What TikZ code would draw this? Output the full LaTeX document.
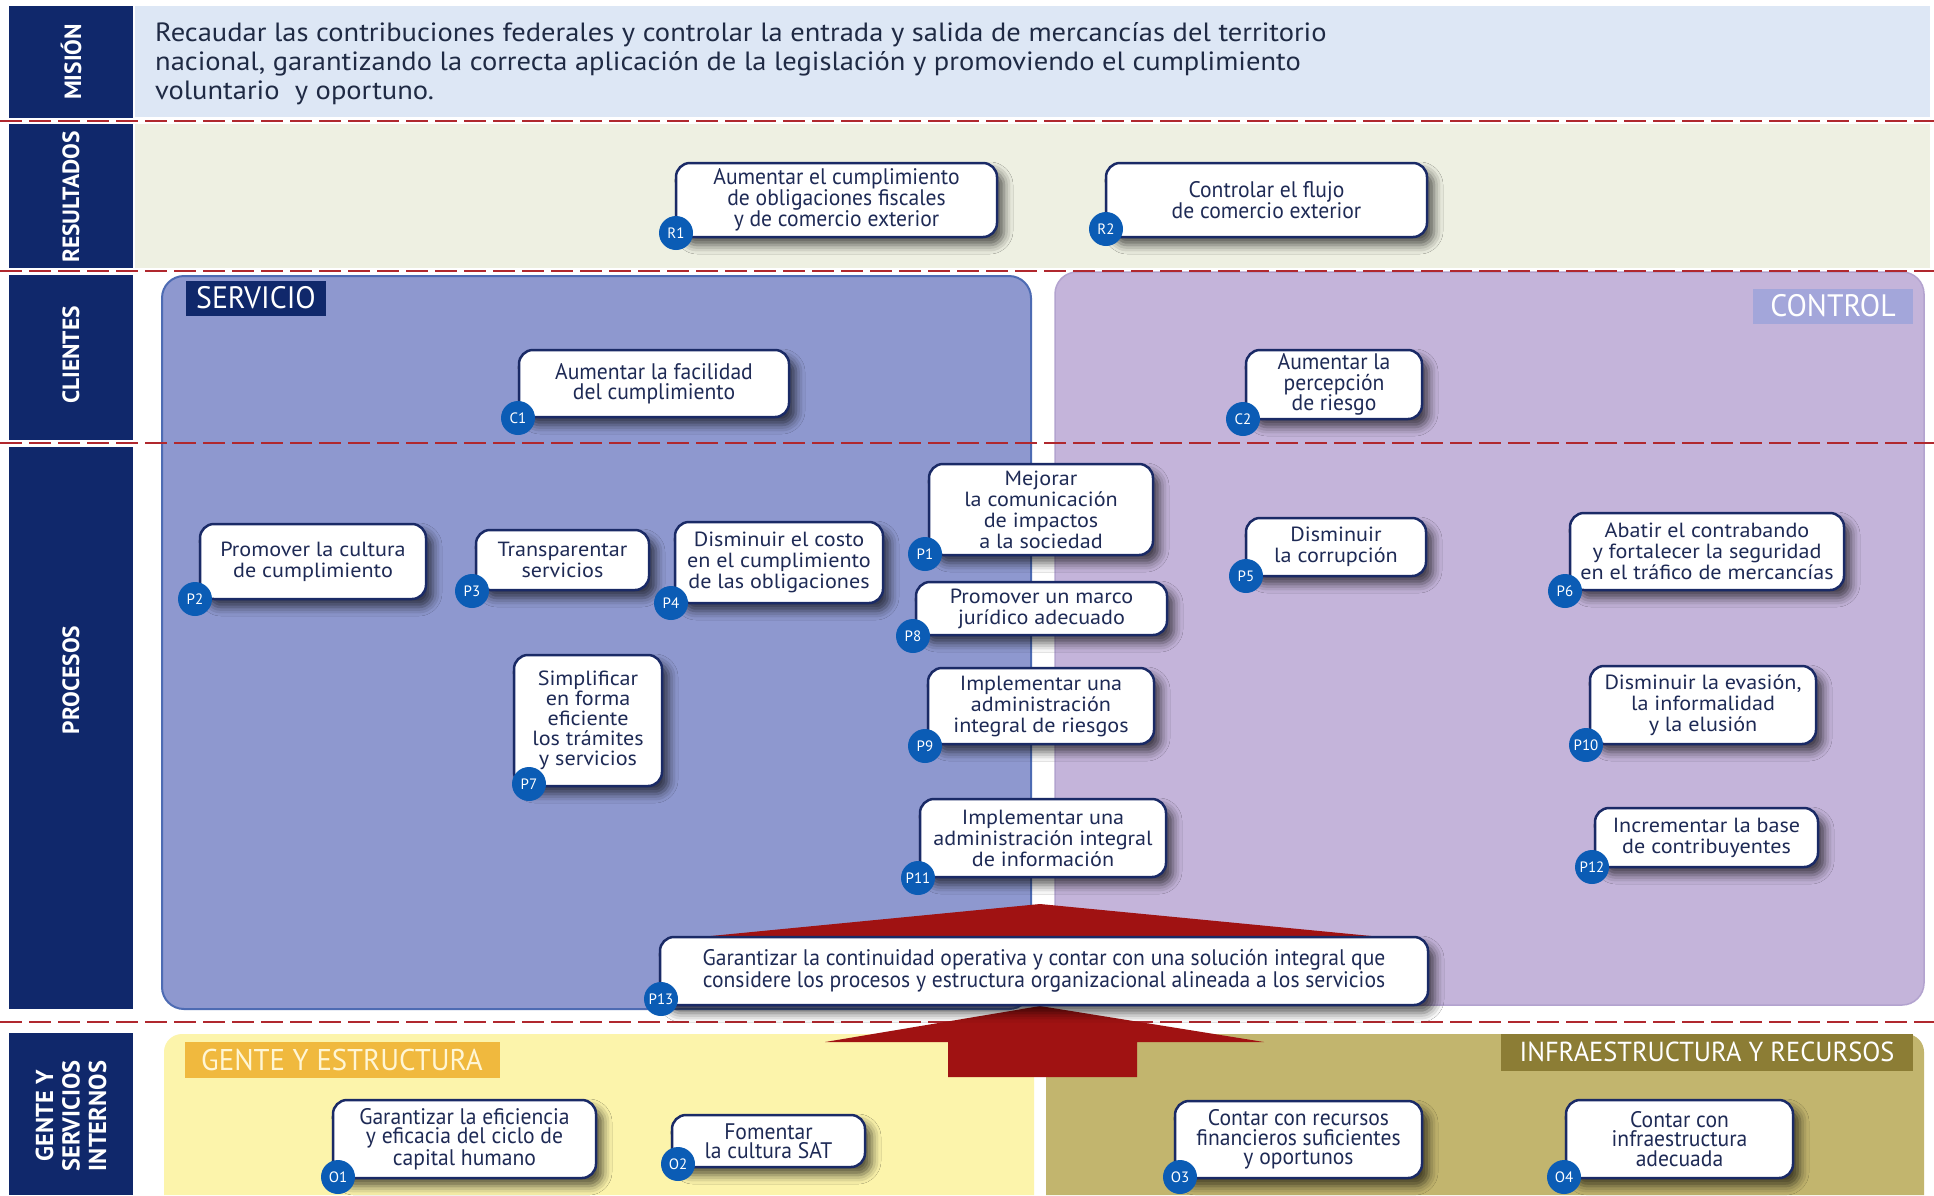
\documentclass[tikz,border=0pt]{standalone}
\usepackage{fontspec}
\setmainfont{PT Sans}
\newfontfamily\condfont[FakeStretch=0.96]{PT Sans}
\newfontfamily\widefont[FakeStretch=1.08]{PT Sans}
\usetikzlibrary{shadows.blur}
\definecolor{navy}{HTML}{10286B}
\definecolor{misc}{HTML}{DDE7F5}
\definecolor{resc}{HTML}{EEF0E2}
\definecolor{servc}{HTML}{8E98CF}
\definecolor{servb}{HTML}{4D6BB3}
\definecolor{contc}{HTML}{C4B4DA}
\definecolor{contb}{HTML}{B3A3CF}
\definecolor{gentc}{HTML}{FCF4AB}
\definecolor{infrac}{HTML}{C2B56E}
\definecolor{contlab}{HTML}{A3A6DA}
\definecolor{gentlab}{HTML}{F0B93E}
\definecolor{gentlabtext}{HTML}{FFF6D5}
\definecolor{infralab}{HTML}{8C7D35}
\definecolor{dashred}{HTML}{B0282E}
\definecolor{arrowred}{HTML}{A01212}
\definecolor{boxborder}{HTML}{1A2A66}
\definecolor{boxtext}{HTML}{1E2A55}
\definecolor{badgec}{HTML}{0B5CB5}
\definecolor{missiontext}{HTML}{1F2A44}
\newcommand{\rf}{\condfont\fontsize{22.5}{21}\selectfont}
\newcommand{\cf}{\condfont\fontsize{22.5}{20.5}\selectfont}
\newcommand{\of}{\condfont\fontsize{22.5}{19.5}\selectfont}
\newcommand{\pf}{\widefont\fontsize{20.5}{21}\selectfont}
\newcommand{\pfs}{\widefont\fontsize{20.5}{20}\selectfont}
\newcommand{\goal}[9]{%
  \node[box, font=#6, minimum width={(#4-#2)*1pt}, minimum height={(#5-#3)*1pt}] (#1) at ({(#2+#4)/2},{(#3+#5)/2}) {#7};
  \node[badge] (#1b) at (#8,#9) {#1};
}
\begin{document}
\begin{tikzpicture}[x=1pt,y=-1pt,
  box/.style={draw=boxborder, line width=2.5pt, fill=white, rounded corners=14pt,
    blur shadow={shadow xshift=7pt, shadow yshift=-8pt, shadow blur radius=9pt, shadow opacity=65},
    align=center, text=boxtext, inner sep=0pt},
  badge/.style={circle, fill=badgec, text=white, minimum size=34pt, inner sep=0pt,
    font=\fontsize{15}{15}\selectfont},
  sidelabel/.style={rotate=90, text=white, align=center, font=\bfseries\fontsize{23.5}{26}\selectfont},
  plabel/.style={text=white, inner sep=0pt, font=\condfont\fontsize{31}{32}\selectfont},
  reddash/.style={draw=dashred, line width=2.5pt, dash pattern=on 22pt off 7pt}
]
\useasboundingbox (0,0) rectangle (1934,1195);
\fill[white] (0,0) rectangle (1934,1195);
% left navy column
\fill[navy] (9,6) rectangle (133,118);
\fill[navy] (9,124) rectangle (133,268);
\fill[navy] (9,275) rectangle (133,440);
\fill[navy] (9,447) rectangle (133,1009);
\fill[navy] (9,1033) rectangle (133,1195);
\node[sidelabel] (lmis) at (71,62) {MISIÓN};
\node[sidelabel] (lres) at (71,197) {RESULTADOS};
\node[sidelabel] (lcli) at (71,355) {CLIENTES};
\node[sidelabel] (lpro) at (71,680) {PROCESOS};
\node[sidelabel, font=\bfseries\fontsize{24.5}{26.5}\selectfont] (lgen) at (71,1116) {GENTE Y\\SERVICIOS\\INTERNOS};
% bands
\fill[misc] (135,6) rectangle (1930,117);
\fill[resc] (135,124) rectangle (1930,268);
\node[anchor=north west, align=left, text=missiontext, inner sep=0pt,
  font=\widefont\fontsize{26.4}{29}\selectfont] (mtext) at (155,22)
  {Recaudar las contribuciones federales y controlar la entrada y salida de mercancías del territorio\\
   nacional, garantizando la correcta aplicación de la legislación y promoviendo el cumplimiento\\
   voluntario\ \ y oportuno.};
% panels
\draw[fill=servc, draw=servb, line width=2pt, rounded corners=22pt] (162,276) rectangle (1031,1009);
\draw[fill=contc, draw=contb, line width=1.5pt, rounded corners=22pt] (1055,272) rectangle (1924,1005);
\fill[gentc] (164,1195) [rounded corners=18pt] -- (164,1034) -- (1034,1034) [sharp corners] -- (1034,1195) -- cycle;
\fill[infrac] (1046,1195) [rounded corners=18pt] -- (1046,1034) -- (1924,1034) [sharp corners] -- (1924,1195) -- cycle;
% panel labels
\node[plabel, fill=navy, minimum width=140pt, minimum height=35pt] (lserv) at (256,298) {SERVICIO};
\node[plabel, fill=contlab, minimum width=160pt, minimum height=35pt] (lcont) at (1833,306) {CONTROL};
\node[plabel, fill=gentlab, text=gentlabtext, minimum width=315pt, minimum height=36pt, font=\condfont\fontsize{30}{31}\selectfont] (lgente) at (342,1060) {GENTE Y ESTRUCTURA};
\node[plabel, fill=infralab, minimum width=412pt, minimum height=37pt, font=\condfont\fontsize{27.5}{28}\selectfont] (linfra) at (1707,1052) {INFRAESTRUCTURA Y RECURSOS};
% dashed separators
\draw[reddash] (0,121) -- (1934,121);
\draw[reddash] (0,271) -- (1934,271);
\draw[reddash] (0,443) -- (1934,443);
\draw[reddash] (0,1022) -- (1934,1022);
% red arrows
\fill[arrowred] (1040,904) -- (1392,938) -- (1392,955) -- (690,955) -- (690,938) -- cycle;
\fill[arrowred] (1040,1006) -- (1264,1042) -- (1137,1042) -- (1137,1077) -- (948,1077) -- (948,1042) -- (825,1042) -- cycle;
% objectives
\goal{R1}{676}{163}{997}{237}{\rf}{Aumentar el cumplimiento\\de obligaciones fiscales\\y de comercio exterior}{676}{233}
\goal{R2}{1106}{163}{1427}{237}{\rf}{Controlar el flujo\\de comercio exterior}{1106}{229}
\goal{C1}{519}{350}{789}{417}{\cf}{Aumentar la facilidad\\del cumplimiento}{518}{418}
\goal{C2}{1246}{350}{1422}{419}{\cf}{Aumentar la\\percepción\\de riesgo}{1243}{419}
\goal{P1}{929}{464}{1153}{555}{\pf}{Mejorar\\la comunicación\\de impactos\\a la sociedad}{925}{554}
\goal{P2}{200}{524}{426}{599}{\pf}{Promover la cultura\\de cumplimiento}{195}{599}
\goal{P3}{476}{530}{649}{590}{\pf}{Transparentar\\servicios}{472}{591}
\goal{P4}{675}{522}{883}{603}{\pf}{Disminuir el costo\\en el cumplimiento\\de las obligaciones}{671}{603}
\goal{P5}{1246}{518}{1426}{576}{\pf}{Disminuir\\la corrupción}{1246}{576}
\goal{P6}{1570}{513}{1844}{590}{\pf}{Abatir el contrabando\\y fortalecer la seguridad\\en el tráfico de mercancías}{1565}{591}
\goal{P7}{514}{655}{662}{786}{\pfs}{Simplificar\\en forma\\eficiente\\los trámites\\y servicios}{529}{784}
\goal{P8}{916}{582}{1167}{635}{\pf}{Promover un marco\\jurídico adecuado}{913}{636}
\goal{P9}{928}{668}{1154}{744}{\pf}{Implementar una\\administración\\integral de riesgos}{925}{746}
\goal{P10}{1590}{666}{1816}{744}{\pf}{Disminuir la evasión,\\la informalidad\\y la elusión}{1586}{745}
\goal{P11}{920}{799}{1166}{877}{\pf}{Implementar una\\administración integral\\de información}{918}{878}
\goal{P12}{1595}{808}{1818}{867}{\pf}{Incrementar la base\\de contribuyentes}{1592}{867}
\goal{P13}{660}{937}{1428}{1005}{\cf}{Garantizar la continuidad operativa y contar con una solución integral que\\considere los procesos y estructura organizacional alineada a los servicios}{661}{999}
\goal{O1}{333}{1100}{596}{1178}{\of}{Garantizar la eficiencia\\y eficacia del ciclo de\\capital humano}{338}{1177}
\goal{O2}{672}{1115}{865}{1167}{\of}{Fomentar\\la cultura SAT}{678}{1164}
\goal{O3}{1175}{1101}{1422}{1178}{\of}{Contar con recursos\\financieros suficientes\\y oportunos}{1180}{1177}
\goal{O4}{1566}{1100}{1793}{1178}{\of}{Contar con\\infraestructura\\adecuada}{1564}{1177}
\end{tikzpicture}
\end{document}
